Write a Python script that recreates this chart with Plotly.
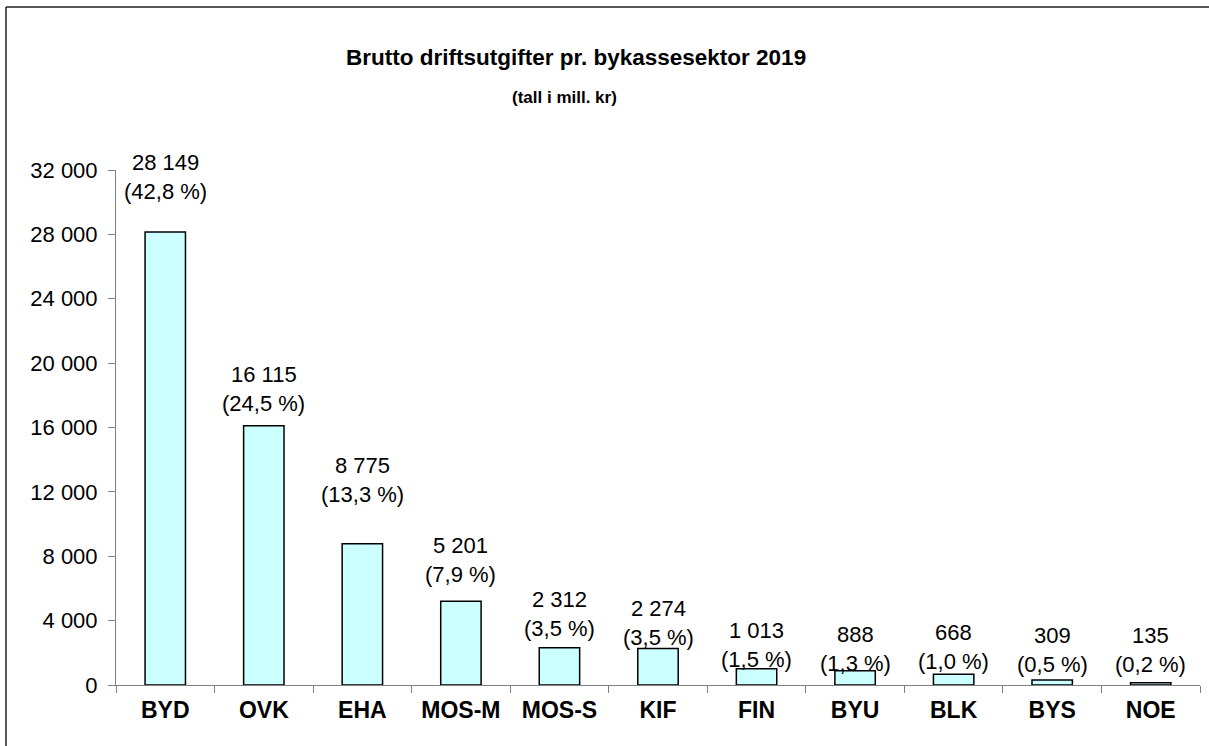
import plotly.graph_objects as go

categories = ["BYD", "OVK", "EHA", "MOS-M", "MOS-S", "KIF", "FIN", "BYU", "BLK", "BYS", "NOE"]
values = [28149, 16115, 8775, 5201, 2312, 2274, 1013, 888, 668, 309, 135]
shares = [42.8, 24.5, 13.3, 7.9, 3.5, 3.5, 1.5, 1.3, 1.0, 0.5, 0.2]
y_ticks = [0, 4000, 8000, 12000, 16000, 20000, 24000, 28000, 32000]

title_text = "Brutto driftsutgifter pr. bykassesektor 2019"
subtitle_text = "(tall i mill. kr)"

# distance (px) from bar top to centre of the percentage line, as Excel placed them
label_lift = [40, 22, 49, 27, 19, 11, 9, 7, 13, 16, 18]
LINE_GAP = 29

W, H = 1209, 746
L, R, T, B = 116, 9, 170, 61
PW, PH = W - L - R, H - T - B


def px_x(px):
    return (px - L) / PW


def px_y(py):
    return (H - B - py) / PH


def fmt_int(v):
    return f"{v:,}".replace(",", " ")


def fmt_pct(p):
    return f"({p:.1f} %)".replace(".", ",")


FONT = "Liberation Sans, Arial, sans-serif"

fig = go.Figure(
    go.Bar(
        x=categories,
        y=values,
        width=0.41,
        marker=dict(color="#CCFFFF", line=dict(color="#000000", width=1.5)),
        hoverinfo="x+y",
    )
)

annotations = []
for c, v, p, lift in zip(categories, values, shares, label_lift):
    annotations.append(
        dict(x=c, y=v, xref="x", yref="y", text=fmt_pct(p),
             showarrow=False, yanchor="middle", yshift=lift,
             font=dict(family=FONT, size=22, color="#000000"))
    )
    annotations.append(
        dict(x=c, y=v, xref="x", yref="y", text=fmt_int(v),
             showarrow=False, yanchor="middle", yshift=lift + LINE_GAP,
             font=dict(family=FONT, size=22, color="#000000"))
    )

annotations.append(
    dict(x=px_x(576), y=px_y(58), xref="paper", yref="paper",
         text=f"<b>{title_text}</b>", showarrow=False,
         xanchor="center", yanchor="middle",
         font=dict(family=FONT, size=22.5, color="#000000"))
)
annotations.append(
    dict(x=px_x(564), y=px_y(97), xref="paper", yref="paper",
         text=f"<b>{subtitle_text}</b>", showarrow=False,
         xanchor="center", yanchor="middle",
         font=dict(family=FONT, size=17, color="#000000"))
)

fig.update_layout(
    width=W, height=H,
    margin=dict(l=L, r=R, t=T, b=B, pad=0),
    paper_bgcolor="white", plot_bgcolor="white",
    separators=", ",
    showlegend=False,
    annotations=annotations,
    shapes=[
        dict(type="line", xref="paper", yref="paper",
             x0=px_x(6), x1=px_x(1215), y0=px_y(7), y1=px_y(7),
             line=dict(color="#222222", width=1.5)),
        dict(type="line", xref="paper", yref="paper",
             x0=px_x(6), x1=px_x(6), y0=px_y(7), y1=px_y(760),
             line=dict(color="#222222", width=1.5)),
    ],
    xaxis=dict(
        type="category",
        tickson="boundaries",
        ticks="outside", ticklen=7, tickcolor="#808080", tickwidth=1,
        showline=True, linecolor="#808080", linewidth=1,
        showgrid=False, zeroline=False,
        tickfont=dict(family=FONT, size=23, color="#000000", weight="bold"),
        ticklabelstandoff=4,
        range=[-0.5, 10.5],
    ),
    yaxis=dict(
        range=[0, 32000],
        tickvals=y_ticks,
        tickformat=",d",
        ticks="outside", ticklen=7, tickcolor="#808080", tickwidth=1,
        showline=True, linecolor="#808080", linewidth=1,
        showgrid=False, zeroline=False,
        tickfont=dict(family=FONT, size=22, color="#000000"),
        ticklabelstandoff=6,
    ),
)

fig.write_html(
    "out.html",
    config={"displayModeBar": False},
    post_script="document.body.style.margin='0px';",
)
